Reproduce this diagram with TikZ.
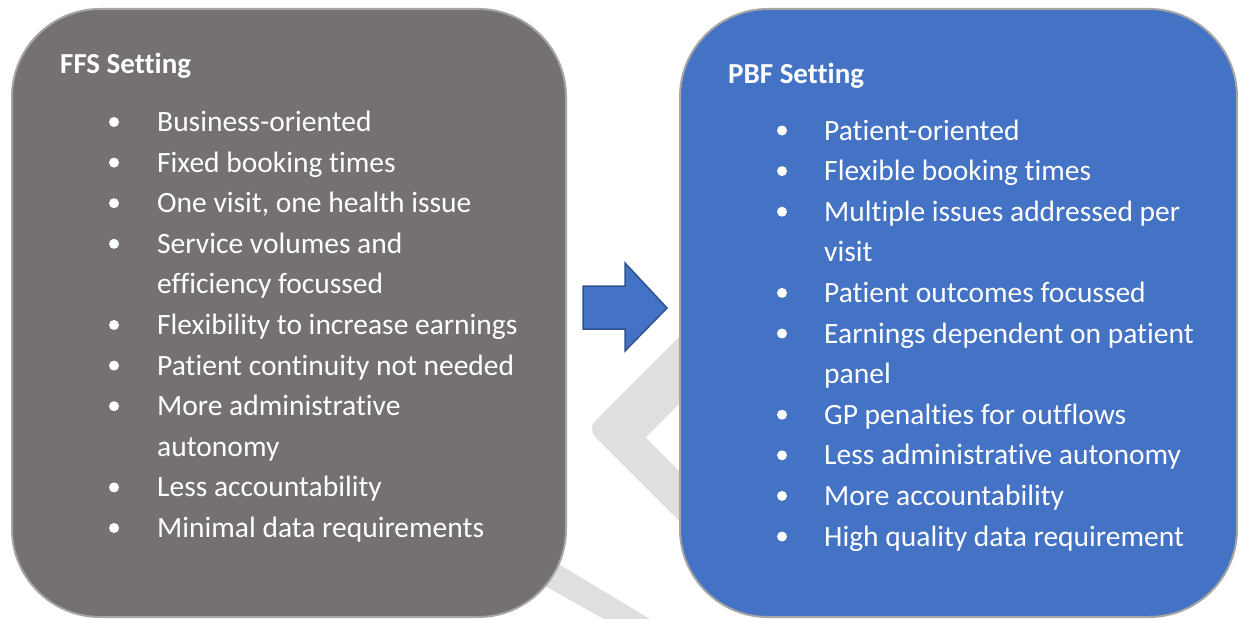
\documentclass[tikz,border=0pt]{standalone}
\usepackage{fontspec}
\setmainfont{Carlito}[RawFeature={-liga}]
\definecolor{ffsgray}{HTML}{767171}
\definecolor{pbfblue}{HTML}{4472C4}
\definecolor{panelrim}{HTML}{A5A5A5}
\definecolor{arrowrim}{HTML}{2F528F}
\definecolor{markgray}{HTML}{DFDFDF}
\begin{document}
\begin{tikzpicture}[x=1pt,y=-1pt,
  panel/.style={draw=panelrim, line width=2pt, rounded corners=88pt},
  heading/.style={anchor=base west, inner sep=0pt, text=white,
    font=\fontsize{29}{35}\selectfont\bfseries},
  item/.style={anchor=base west, inner sep=0pt, text=white,
    font=\fontsize{29.5}{35}\selectfont},
  dot/.style={circle, fill=white, minimum size=10pt, inner sep=0pt}
]
\useasboundingbox[fill=white] (0,0) rectangle (1238,618);

% faint background figure
\fill[markgray] (720,296) [rounded corners=12pt]-- (587,429) [sharp corners]-- (720,562)
  -- (720,512) -- (645.5,437.5) -- (720,363) -- cycle;
\fill[markgray] (545,556) -- (665,628) -- (620,628) -- (520,572) -- cycle;

% panels
\draw[panel, fill=ffsgray] (12,9) rectangle (566,617);
\draw[panel, fill=pbfblue] (680,9) rectangle (1237,617);

% left panel text
\node[heading] (ffs) at (60,74) {FFS Setting};
\foreach \i/\t/\b in {0/Business-oriented/1, 1/Fixed booking times/1,
    2/{One visit, one health issue}/1, 3/Service volumes and/1,
    4/efficiency focussed/0, 5/Flexibility to increase earnings/1,
    6/Patient continuity not needed/1, 7/More administrative/1,
    8/autonomy/0, 9/Less accountability/1, 10/Minimal data requirements/1}{
  \node[item] (ffs-\i) at (157,131.5+40.6*\i) {\t};
  \ifnum\b=1 \node[dot] (ffsdot-\i) at (114,122+40.6*\i) {}; \fi
}

% right panel text
\node[heading] (pbf) at (728,83.5) {PBF Setting};
\foreach \i/\t/\b in {0/Patient-oriented/1, 1/Flexible booking times/1,
    2/Multiple issues addressed per/1, 3/visit/0,
    4/Patient outcomes focussed/1, 5/Earnings dependent on patient/1,
    6/panel/0, 7/GP penalties for outflows/1,
    8/Less administrative autonomy/1, 9/More accountability/1,
    10/High quality data requirement/1}{
  \node[item] (pbf-\i) at (824,140+40.6*\i) {\t};
  \ifnum\b=1 \node[dot] (pbfdot-\i) at (782,130.5+40.6*\i) {}; \fi
}

% block arrow between the panels
\draw[fill=pbfblue, draw=arrowrim, line width=1.5pt, line join=miter]
  (583,286) -- (625,286) -- (625,263) -- (667,308) -- (625,351)
  -- (625,329) -- (583,329) -- cycle;
\end{tikzpicture}
\end{document}
